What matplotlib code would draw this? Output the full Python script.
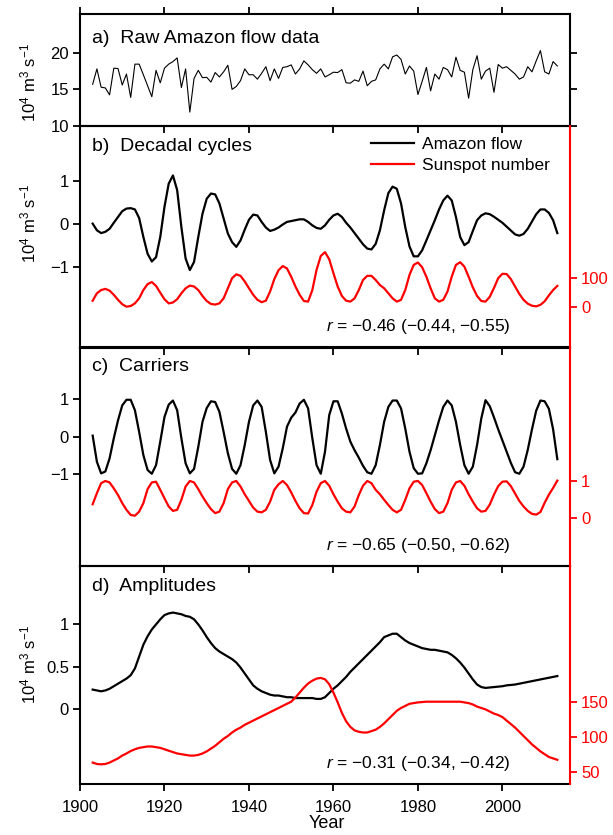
import numpy as np
import matplotlib
matplotlib.use("Agg")
import matplotlib.pyplot as plt

plt.rcParams["font.family"] = ["Liberation Sans", "DejaVu Sans"]
plt.rcParams["mathtext.fontset"] = "custom"
plt.rcParams["mathtext.rm"] = "Liberation Sans"
plt.rcParams["mathtext.it"] = "Liberation Sans:italic"

# Years of the annual series
years = np.arange(1903, 2014)

# a) raw Amazon flow (10^4 m^3 s^-1)
flow_raw = [
    15.7, 17.8, 15.3, 15.2, 14.25, 17.9, 17.85,
    15.6, 17.1, 13.9, 18.45, 18.45, 17.0, 15.5, 14.0, 17.6, 15.9,
    17.9, 18.45, 18.8, 19.3, 15.25, 17.8, 11.9, 16.5, 17.6, 16.6,
    16.65, 16.0, 17.3, 16.7, 17.4, 18.3, 15.0, 15.4, 16.2, 17.8,
    17.0, 17.0, 16.4, 17.2, 18.1, 16.2, 17.8, 16.5, 18.0, 18.1,
    18.35, 17.1, 17.8, 18.9, 18.35, 17.7, 17.2, 17.8, 16.7, 17.0,
    17.35, 17.3, 17.7, 15.9, 15.85, 16.3, 16.1, 17.5, 15.5, 16.1,
    16.3, 17.8, 18.45, 17.8, 19.45, 19.7, 19.1, 17.1, 18.2, 17.5,
    14.3, 16.1, 18.0, 14.8, 17.1, 16.4, 18.0, 17.7, 16.7, 19.4,
    17.6, 17.35, 13.8, 17.7, 19.6, 16.4, 17.5, 17.9, 14.6, 18.4,
    17.9, 18.1, 17.6, 17.1, 16.4, 16.7, 18.1, 17.4, 18.9, 20.3,
    17.4, 17.1, 18.8, 18.2,
]

# b) decadal cycles
flow_decadal = [
    0.0, -0.155, -0.22, -0.19, -0.12, 0.02, 0.155,
    0.29, 0.35, 0.36, 0.33, 0.13, -0.31, -0.70, -0.88, -0.78, -0.31,
    0.39, 0.93, 1.12, 0.78, -0.08, -0.81, -1.08, -0.89, -0.31, 0.23,
    0.58, 0.70, 0.68, 0.47, 0.12, -0.23, -0.43, -0.54, -0.39, -0.14,
    0.09, 0.21, 0.19, 0.04, -0.09, -0.17, -0.14, -0.09, -0.02, 0.04,
    0.06, 0.08, 0.10, 0.10, 0.04, -0.04, -0.10, -0.12, -0.04, 0.09,
    0.19, 0.23, 0.155, 0.02, -0.09, -0.22, -0.35, -0.48, -0.58, -0.60,
    -0.47, -0.155, 0.31, 0.71, 0.86, 0.81, 0.47, -0.08, -0.53, -0.76,
    -0.76, -0.62, -0.39, -0.155, 0.08, 0.33, 0.54, 0.65, 0.54, 0.155,
    -0.31, -0.50, -0.43, -0.17, 0.08, 0.19, 0.24, 0.22, 0.16, 0.09,
    0.02, -0.07, -0.16, -0.25, -0.28, -0.24, -0.12, 0.05, 0.22, 0.33,
    0.33, 0.25, 0.08, -0.22,
]
sun_decadal = [
    22, 47, 58, 62, 56, 42, 25,
    10, 2, 4, 13, 30, 58, 78, 85, 72, 49,
    27, 13, 16, 27, 47, 64, 73, 70, 58, 38,
    21, 11, 9, 13, 30, 64, 98, 111, 106, 87,
    64, 42, 25, 17, 22, 53, 95, 125, 139, 131,
    103, 70, 42, 21, 19, 58, 126, 173, 186, 162,
    115, 70, 38, 22, 19, 30, 58, 92, 106, 106,
    92, 75, 64, 47, 30, 19, 25, 58, 109, 143,
    151, 135, 103, 64, 30, 19, 25, 53, 103, 143,
    152, 137, 103, 67, 38, 21, 19, 35, 65, 98,
    113, 112, 95, 70, 45, 25, 12, 5, 3, 8,
    20, 40, 58, 72,
]

# c) carriers
flow_carrier = [
    0.03, -0.67, -0.98, -0.93, -0.58, -0.04, 0.44,
    0.84, 0.99, 0.99, 0.71, 0.13, -0.49, -0.89, -0.99, -0.76, -0.13,
    0.53, 0.86, 0.97, 0.71, -0.04, -0.71, -0.98, -0.86, -0.27, 0.40,
    0.77, 0.95, 0.93, 0.67, 0.13, -0.44, -0.86, -0.99, -0.76, -0.22,
    0.40, 0.84, 0.97, 0.80, 0.13, -0.62, -0.98, -0.80, -0.31, 0.27,
    0.51, 0.65, 0.89, 0.99, 0.76, -0.04, -0.76, -0.99, -0.40, 0.58,
    0.95, 0.95, 0.62, 0.22, -0.13, -0.36, -0.56, -0.78, -0.95, -0.99,
    -0.76, -0.22, 0.40, 0.80, 0.97, 0.97, 0.76, 0.22, -0.40, -0.84,
    -0.99, -0.98, -0.71, -0.36, 0.04, 0.44, 0.80, 0.97, 0.84, 0.40,
    -0.22, -0.76, -0.99, -0.80, -0.22, 0.49, 0.98, 0.82, 0.52, 0.20,
    -0.10, -0.40, -0.70, -0.95, -0.99, -0.80, -0.35, 0.20, 0.70, 0.97,
    0.95, 0.75, 0.20, -0.60,
]
sun_carrier = [
    0.36, 0.66, 0.93, 0.99, 0.95, 0.79, 0.61,
    0.39, 0.21, 0.07, 0.05, 0.16, 0.39, 0.77, 0.95, 0.97, 0.75,
    0.52, 0.30, 0.18, 0.21, 0.48, 0.84, 0.99, 0.95, 0.77, 0.57,
    0.39, 0.23, 0.12, 0.16, 0.39, 0.77, 0.95, 0.99, 0.84, 0.63,
    0.45, 0.27, 0.16, 0.14, 0.21, 0.43, 0.75, 0.90, 0.99, 0.88,
    0.68, 0.45, 0.25, 0.12, 0.11, 0.34, 0.70, 0.93, 0.99, 0.86,
    0.63, 0.43, 0.25, 0.16, 0.14, 0.30, 0.61, 0.86, 0.99, 0.93,
    0.75, 0.63, 0.48, 0.34, 0.21, 0.14, 0.21, 0.48, 0.79, 0.97,
    0.99, 0.88, 0.66, 0.43, 0.23, 0.12, 0.16, 0.39, 0.75, 0.95,
    0.99, 0.86, 0.63, 0.43, 0.25, 0.16, 0.18, 0.35, 0.62, 0.85,
    0.97, 0.98, 0.85, 0.65, 0.45, 0.30, 0.18, 0.10, 0.08, 0.15,
    0.40, 0.62, 0.80, 1.00,
]

# d) amplitudes
flow_amp = [
    0.23, 0.22, 0.21, 0.22, 0.24, 0.27, 0.30,
    0.33, 0.36, 0.40, 0.48, 0.62, 0.76, 0.86, 0.94, 1.00, 1.06,
    1.11, 1.13, 1.14, 1.13, 1.12, 1.10, 1.09, 1.06, 1.00, 0.93,
    0.85, 0.78, 0.72, 0.68, 0.65, 0.62, 0.59, 0.55, 0.49, 0.42,
    0.35, 0.28, 0.24, 0.21, 0.19, 0.17, 0.16, 0.16, 0.15, 0.14,
    0.14, 0.13, 0.13, 0.13, 0.13, 0.13, 0.12, 0.12, 0.14, 0.19,
    0.24, 0.28, 0.33, 0.38, 0.44, 0.49, 0.54, 0.59, 0.64, 0.69,
    0.74, 0.79, 0.85, 0.87, 0.89, 0.89, 0.85, 0.81, 0.78, 0.76,
    0.74, 0.72, 0.71, 0.70, 0.70, 0.69, 0.68, 0.67, 0.64, 0.60,
    0.55, 0.49, 0.42, 0.35, 0.29, 0.26, 0.25, 0.255, 0.26, 0.265,
    0.27, 0.28, 0.285, 0.29, 0.30, 0.31, 0.32, 0.33, 0.34, 0.35,
    0.36, 0.37, 0.38, 0.39,
]
sun_amp = [
    63, 61, 60.5, 61, 63, 66, 69,
    73, 76, 79.5, 82, 84, 85, 86, 86, 85, 84,
    82, 80, 78, 76, 75, 74, 73, 73, 74, 76,
    79, 83, 87, 92, 97, 101, 106, 110, 113, 117,
    120, 123, 126, 129, 132, 135, 138, 141, 144, 147,
    150, 156, 163, 170, 176, 180, 183, 184, 182, 175,
    163, 149, 134, 122, 114, 109, 107, 106, 106, 108,
    110, 114, 119, 125, 131, 137, 141, 144, 147, 148,
    149, 149.5, 150, 150, 150, 150, 150, 150, 150, 150,
    150, 149, 148, 146, 143, 141, 139, 136, 133, 131,
    128, 123, 118, 113, 107, 101, 95, 89, 84, 79,
    75, 71, 69, 67,
]

r_texts = ["$r$ = \u22120.46 (\u22120.44, \u22120.55)",
           "$r$ = \u22120.65 (\u22120.50, \u22120.62)",
           "$r$ = \u22120.31 (\u22120.34, \u22120.42)"]
titles = ["a)  Raw Amazon flow data", "b)  Decadal cycles",
          "c)  Carriers", "d)  Amplitudes"]
unit = "10$^4$ m$^3$ s$^{-1}$"

W, H = 613, 835
fig = plt.figure(figsize=(W / 100, H / 100), dpi=100)

# panel edges in pixels (top, bottom)
edges = [(14, 126), (126, 347.5), (347.5, 566), (566, 784)]
axes = []
for top, bot in edges:
    ax = fig.add_axes([80 / W, 1 - bot / H, 490 / W, (bot - top) / H])
    ax.patch.set_visible(False)
    axes.append(ax)

FS = 12
TFS = 14
LFS = 12.5
RED = "#ff0000"

for i, ax in enumerate(axes):
    ax.set_xlim(1900, 2016)
    ax.set_xticks(np.arange(1900, 2001, 20))
    for s in ax.spines.values():
        s.set_linewidth(1.5)
    ax.tick_params(axis="both", direction="out", length=5, width=1.3,
                   labelsize=FS, pad=3)
    ax.tick_params(axis="x", top=(i == 0), labelbottom=(i == 3), pad=6.5)
    ax.text(0.025, [0.781, 0.9065, 0.915, 0.908][i], titles[i],
            transform=ax.transAxes, fontsize=TFS, va="center", ha="left")

# a) raw data
ax = axes[0]
ax.plot(years, flow_raw, color="black", lw=0.8)
ax.set_ylim(10, 25.3)
ax.set_yticks([10, 15, 20])
ax.tick_params(axis="y", right=True)

twins = []
for ax in axes[1:]:
    tw = ax.twinx()
    tw.patch.set_visible(False)
    for k in ["top", "left", "bottom"]:
        tw.spines[k].set_visible(False)
    tw.spines["right"].set_color(RED)
    tw.spines["right"].set_linewidth(1.5)
    ax.spines["right"].set_visible(False)
    tw.tick_params(axis="y", colors=RED, direction="out", length=5, width=1.3,
                   labelsize=FS, pad=3)
    twins.append(tw)

# b) decadal cycles
ax, tw = axes[1], twins[0]
l1, = ax.plot(years, flow_decadal, color="black", lw=1.6, label="Amazon flow")
l2, = tw.plot(years, sun_decadal, color=RED, lw=1.6, label="Sunspot number")
ax.set_ylim(-2.88, 2.27)
ax.set_yticks([-1, 0, 1])
tw.set_ylim(-136, 612)
tw.set_yticks([0, 100])
ax.legend(handles=[l1, l2], loc="upper left", bbox_to_anchor=(0.594, 0.95),
          frameon=False, fontsize=LFS, handlelength=2.5, handletextpad=0.45,
          borderaxespad=0, borderpad=0, labelspacing=0.3)

# c) carriers
ax, tw = axes[2], twins[1]
ax.plot(years, flow_carrier, color="black", lw=1.6)
tw.plot(years, sun_carrier, color=RED, lw=1.6)
ax.set_ylim(-3.46, 2.39)
ax.set_yticks([-1, 0, 1])
tw.set_ylim(-1.31, 4.6)
tw.set_yticks([0, 1])

# d) amplitudes
ax, tw = axes[3], twins[2]
ax.plot(years, flow_amp, color="black", lw=1.6)
tw.plot(years, sun_amp, color=RED, lw=1.6)
ax.set_ylim(-0.885, 1.69)
ax.set_yticks([0, 0.5, 1])
ax.set_yticklabels(["0", "0.5", "1"])
tw.set_ylim(32.4, 343.9)
tw.set_yticks([50, 100, 150])

for ax, txt in zip(axes[1:], r_texts):
    ax.text(0.878, 0.095, txt, transform=ax.transAxes, fontsize=LFS,
            ha="right", va="center")

# y labels and x label
for yc in [83, 224, 665]:
    fig.text(28 / W, 1 - yc / H, unit, rotation=90, fontsize=FS,
             ha="center", va="center")
fig.text(327 / W, 1 - 824 / H, "Year", fontsize=13, ha="center", va="center")

fig.savefig("out.png", dpi=100)
